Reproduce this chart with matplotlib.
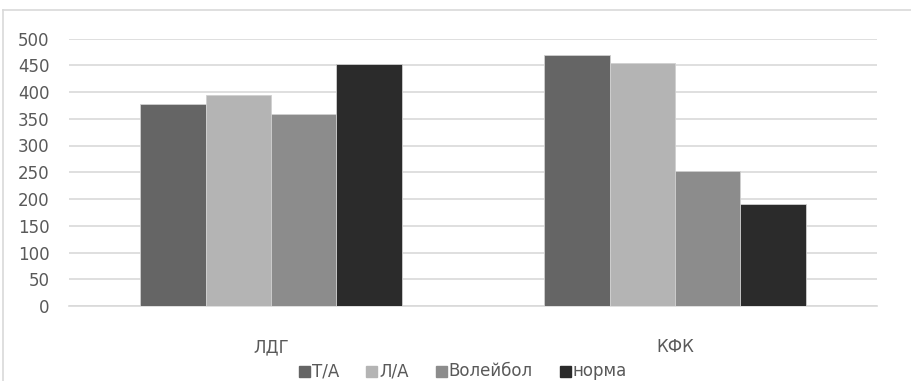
import numpy as np
import matplotlib.pyplot as plt
from matplotlib.lines import Line2D
from matplotlib.patches import Rectangle

# данные
categories = ['ЛДГ', 'КФК']
series = ['Т/А', 'Л/А', 'Волейбол', 'норма']
values = {
    'Т/А': [377, 470],
    'Л/А': [395, 455],
    'Волейбол': [359, 253],
    'норма': [452, 190],
}
colors = ['#656565', '#b4b4b4', '#8c8c8c', '#2b2b2b']
yticks = list(range(0, 501, 50))

plt.rcParams['font.family'] = ['DejaVu Sans']
FS = 12
TXT = '#595959'
W, H = 912, 381

fig = plt.figure(figsize=(W / 100, H / 100), dpi=100)
ax = fig.add_axes([69 / W, 1 - 306 / H, (877 - 69) / W, (306 - 38.5) / H])

x = np.arange(len(categories))
w = 0.162
for i, s in enumerate(series):
    ax.bar(x + (i - 1.5) * w, values[s], width=w, color=colors[i],
           edgecolor='#d0d0d0', linewidth=0.6, label=s, zorder=3)

ax.set_xlim(-0.5, len(categories) - 0.5)
ax.set_ylim(0, 500)
ax.set_yticks(yticks)
ax.set_xticks(x)
ax.set_xticklabels(categories)
ax.grid(axis='y', color='#d9d9d9', linewidth=1.2, zorder=0)
for sp in ['top', 'right', 'left']:
    ax.spines[sp].set_visible(False)
ax.spines['bottom'].set_color('#d9d9d9')
ax.spines['bottom'].set_linewidth(1.2)
ax.tick_params(axis='both', length=0, labelsize=FS, colors=TXT)
ax.tick_params(axis='x', pad=23)
ax.tick_params(axis='y', pad=14)

# легенда: квадрат + подпись, все на одной базовой линии
r = fig.canvas.get_renderer()
sq, gap_in, gap_out = 11, 2, 27
base_y = 376
texts = [fig.text(0, 0, s, fontsize=FS, color=TXT, va='baseline') for s in series]
widths = [t.get_window_extent(r).width for t in texts]
total = sum(sq + gap_in + tw for tw in widths) + gap_out * (len(series) - 1)
cx = 463 - total / 2
for s, c, t, tw in zip(series, colors, texts, widths):
    fig.add_artist(Rectangle((cx / W, 1 - (base_y + 1) / H), sq / W, sq / H,
                             transform=fig.transFigure, color=c))
    t.set_position(((cx + sq + gap_in) / W, 1 - base_y / H))
    cx += sq + gap_in + tw + gap_out

# рамка диаграммы
fig.add_artist(Line2D([3 / W, 3 / W], [0, 1 - 10 / H], transform=fig.transFigure,
                      color='#d9d9d9', linewidth=1.2))
fig.add_artist(Line2D([3 / W, 1], [1 - 10 / H, 1 - 10 / H], transform=fig.transFigure,
                      color='#d9d9d9', linewidth=1.2))

fig.savefig('out.png', dpi=100)
